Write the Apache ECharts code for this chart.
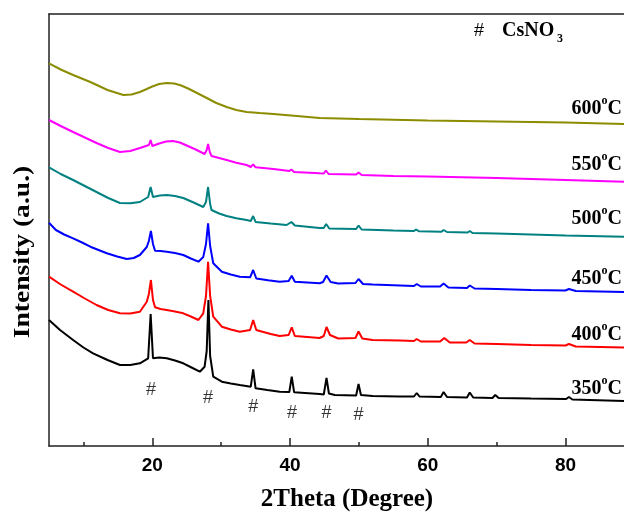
<!DOCTYPE html>
<html>
<head>
<meta charset="utf-8">
<script src="https://cdn.jsdelivr.net/npm/echarts@6/dist/echarts.min.js"></script>
<style>html,body{margin:0;padding:0;background:#fff}#c{width:624px;height:512px}</style>
</head>
<body>
<div id="c"></div>
<script>
// 2Theta (degree) vs intensity (a.u., offset-stacked)
const s350 = [[5,126],[6.6,116],[8.5,106],[10,98.5],[11.4,92.7],[13.5,86],[15.3,81],[16.8,81],[18.2,82.7],[19.4,87.7],[19.76,132],[20.1,87.7],[21,88.5],[22.1,87.7],[23.3,85.5],[24.5,82.7],[25.7,78.5],[26.9,74.3],[27.6,79.3],[27.9,95],[28.15,146],[28.4,90],[28.85,69.3],[30.1,64.3],[31.4,62.5],[32.7,61],[34.3,59.3],[34.65,76.7],[35.0,57.7],[36.7,56],[38.5,54.3],[39.9,54],[40.25,69.3],[40.6,53.7],[44.3,52],[44.9,51.5],[45.3,68],[45.65,52.5],[46.5,51],[49.6,50.5],[49.95,62],[50.3,51],[52,50],[55.9,49.5],[58.0,49.5],[58.4,53],[58.8,49.5],[61.9,49],[62.3,54],[62.8,49],[65.7,48.5],[66.1,53.5],[66.6,48.5],[69.4,48],[69.8,51],[70.3,48],[75,47.5],[80.1,47],[80.5,49],[81,46.5],[88.5,45]];
const s400 = [[5,169.3],[6.7,161.5],[8.5,154.3],[10.2,147.5],[11.9,141],[13.6,136],[15.3,132.7],[16.8,132.5],[18.2,134.3],[19.2,144.3],[19.5,152],[19.8,166],[20.1,146],[20.4,138.7],[21.2,137],[22.1,136],[23.3,134.5],[24.5,132.7],[25.6,129.5],[26.7,126],[27.4,132.7],[27.8,150],[28.1,184.3],[28.4,150],[28.85,129.3],[30.1,119.3],[31.4,116.5],[32.7,114.3],[34.2,116],[34.65,126],[35.1,116],[36,114.3],[37.2,112],[38.5,110],[39.8,111],[40.25,118.7],[40.7,110],[44.3,108],[44.9,110],[45.3,119],[45.8,111],[47,107.5],[49.5,108],[49.95,114.5],[50.5,107.5],[52,106],[56,105.5],[58,105],[58.4,107],[59,104.5],[61.8,104.5],[62.4,108],[63.2,103.5],[65.6,103.5],[66.1,106],[66.8,102.5],[70,102],[75,101],[80,100.5],[80.5,102],[81.5,99.5],[88.5,98.5]];
const s450 = [[5,223.3],[6,216],[7.2,211.5],[8.5,207.7],[9.8,203.5],[11,199.3],[12.2,196],[13.4,192.7],[14.9,189.5],[16.3,187],[17.3,188],[18.2,191],[19.2,199],[19.5,205],[19.8,215],[20.1,202],[20.4,195.3],[21.2,195],[22.1,194.3],[23.3,193],[24.5,191],[25.6,187.5],[26.7,184.3],[27.4,189],[27.8,202],[28.1,222.7],[28.4,200],[28.85,182.7],[30.1,174.3],[31.4,171.5],[32.7,169.3],[34.2,168.7],[34.65,176],[35.1,167.5],[36.8,165.8],[38.5,164.3],[39.8,165],[40.25,170.3],[40.7,164.3],[44.3,162.7],[44.8,164],[45.3,170.5],[45.9,164],[47,162.5],[49.5,163],[49.95,167],[50.6,162],[52,161.5],[56,160.5],[58,160],[58.4,162],[59,159.5],[61.8,159.5],[62.3,162.5],[63,158.5],[65.7,158],[66.1,160.5],[66.8,157.5],[70,157],[75,156],[80,155.5],[80.5,157],[81.5,155],[88.5,154]];
const s500 = [[5,278.7],[6.7,272],[8.5,266],[10.2,260],[11.9,254],[13.6,248],[15.3,243],[16.8,242.8],[18.2,244],[19.4,249],[19.76,259],[20.1,249],[21.1,250.5],[22.1,251],[23.3,250],[24.5,248],[26,243.5],[27.4,239],[27.8,244],[28.1,259],[28.4,242],[28.6,236],[29.7,232.5],[30.8,230],[32.2,227.8],[33.7,226],[34.3,225],[34.65,230],[35,224],[37.2,222.5],[39.5,221],[40.2,224],[40.7,220.5],[44.3,218],[44.9,218],[45.25,222],[45.7,217.5],[49.6,217],[49.95,220.5],[50.4,216.5],[55,215.5],[58,215],[58.3,216.5],[58.7,214.8],[62,214.3],[62.3,216],[62.8,214],[65.8,213.5],[66.1,215],[66.5,213],[70,212.5],[75,211.5],[80,210.5],[88.5,209.3]];
const s550 = [[5,326],[6.7,320],[8.5,314],[10.2,308.5],[11.9,303],[13.6,298],[15.3,294],[16.8,295],[18.2,298],[19.5,301],[19.76,306],[20.0,300],[21,302.5],[22,304.5],[23,305],[24,303.5],[25,300.5],[26.3,296.5],[27.6,292],[27.9,296],[28.1,302],[28.35,294],[28.6,290],[29.7,288],[30.8,286],[32.2,283.3],[33.7,281],[34.3,279],[34.65,281.7],[35,278.7],[37.6,277],[39.9,275],[40.2,276.5],[40.6,274],[44.3,272.7],[44.9,272.5],[45.2,275.5],[45.6,272],[49.6,271.5],[49.95,273.5],[50.4,271],[55,270],[60,269.5],[70,268],[80,266],[88.5,264.3]];
const s600 = [[5,382.7],[6.7,376.5],[8.5,371],[11,364],[13.5,356],[15.8,351],[17,351.5],[18.2,354],[19.2,357],[20,359.5],[21,362],[22.1,363],[23.2,362.5],[24.2,360.5],[25.2,357.5],[26.5,353],[27.9,348],[29.3,343],[30.8,339],[32.2,336],[33.7,334],[35.6,333],[37.6,332],[41,330],[44.3,328],[50,327],[60,325.5],[70,324.5],[80,323.5],[88.5,322]];
const hashMarks = [[19.8,56],[28.1,47.7],[34.65,39.3],[40.3,33.3],[45.3,32.7],[49.95,31]];
const majorTicks = [20,40,60,80];
const minorTicks = [10,30,50,70];
const seriesNames = ['350','400','450','500','550','600'];
const seriesColors = ['#000000','#ff0000','#0000ff','#008080','#ff00ff','#8c8c00'];
const seriesData = [s350,s400,s450,s500,s550,s600];
const labelY = [387,333,277,217,163,107];

const chart = echarts.init(document.getElementById('c'));
const serif = "'Liberation Serif','Times New Roman',serif";
const sans = "'Liberation Sans',Arial,sans-serif";
const series = seriesData.map((d,i)=>({
  type:'line', name:seriesNames[i], data:d, showSymbol:false, symbol:'none',
  lineStyle:{color:seriesColors[i], width:2}, itemStyle:{color:seriesColors[i]}, z:2
}));
series.push({
  type:'scatter', data:hashMarks, symbolSize:0, xAxisIndex:0,
  label:{show:true, position:'inside', formatter:'#', fontSize:18, color:'#000', fontFamily:sans}
});
const graphics = seriesNames.map((n,i)=>({
  type:'text', right:2, top:labelY[i]-12,
  style:{text:'{n|'+n+'}{s|o}{n|C}', rich:{n:{fontSize:20,fontWeight:'bold',fontFamily:serif,fill:'#000',lineHeight:24,verticalAlign:'bottom'},s:{fontSize:12,fontWeight:'bold',fontFamily:serif,fill:'#000',lineHeight:24,verticalAlign:'top'}}}
}));
graphics.push({type:'text', left:474, top:22, style:{text:'#', fontSize:18, fontFamily:sans, fill:'#000'}});
graphics.push({type:'text', left:502, top:21, style:{text:'CsNO', fontSize:20, fontWeight:'bold', fontFamily:serif, fill:'#000'}});
graphics.push({type:'text', left:557, top:33, style:{text:'3', fontSize:12, fontWeight:'bold', fontFamily:serif, fill:'#000'}});
graphics.push({type:'text', x:347, y:500, style:{text:'2Theta (Degree)', fontSize:25, fontWeight:'bold', fontFamily:serif, fill:'#000', align:'center', verticalAlign:'middle'}});
graphics.push({type:'text', x:23, y:252, rotation:Math.PI/2, scaleX:1.15, style:{text:'Intensity (a.u.)', fontSize:24, fontWeight:'bold', fontFamily:serif, fill:'#000', align:'center', verticalAlign:'middle'}});

chart.setOption({
  animation:false,
  backgroundColor:'#fff',
  grid:{left:49, top:14, right:0, bottom:66, show:false},
  xAxis:[
    {type:'value', min:5, max:88.5, position:'bottom',
     axisLine:{show:true, onZero:false, lineStyle:{color:'#222', width:1.5}},
     axisTick:{show:true, inside:true, length:8, customValues:majorTicks, lineStyle:{color:'#222', width:1.5}},
     axisLabel:{show:true, customValues:majorTicks, margin:10, fontSize:19, fontWeight:'bold', fontFamily:sans, color:'#000'},
     splitLine:{show:false}},
    {type:'value', min:5, max:88.5, position:'bottom',
     axisLine:{show:false},
     axisTick:{show:true, inside:true, length:4, customValues:minorTicks, lineStyle:{color:'#222', width:1.5}},
     axisLabel:{show:false}, splitLine:{show:false}},
    {type:'value', min:5, max:88.5, position:'top',
     axisLine:{show:true, onZero:false, lineStyle:{color:'#222', width:1.5}},
     axisTick:{show:false}, axisLabel:{show:false}, splitLine:{show:false}}
  ],
  yAxis:{type:'value', min:0, max:432, axisLine:{show:true, onZero:false, lineStyle:{color:'#222', width:1.5}}, axisTick:{show:false}, axisLabel:{show:false}, splitLine:{show:false}},
  series:series,
  graphic:graphics
});
</script>
</body>
</html>
